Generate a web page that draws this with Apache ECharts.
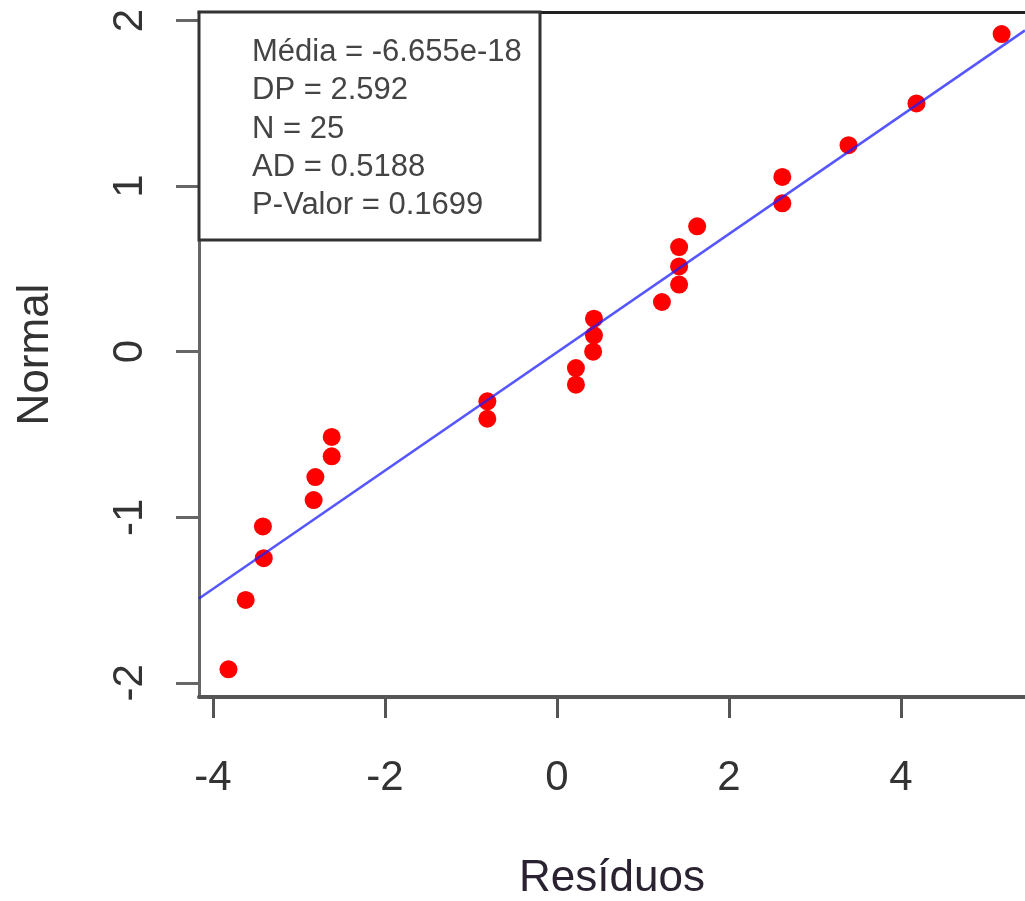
<!DOCTYPE html>
<html>
<head>
<meta charset="utf-8">
<script src="https://cdn.jsdelivr.net/npm/echarts@6/dist/echarts.min.js"></script>
<style>
  html, body { margin: 0; padding: 0; background: #fff; }
  #chart { width: 1025px; height: 901px; }
</style>
</head>
<body>
<div id="chart"></div>
<script>
// residuos vs quantis normais (posições de mediana)
const residuos = [-3.82, -3.62, -3.41, -3.42, -2.83, -2.81, -2.62, -2.62, -0.81, -0.81,
  0.22, 0.22, 0.42, 0.43, 0.43, 1.22, 1.42, 1.42, 1.42, 1.63, 2.62, 2.62, 3.39, 4.18, 5.17];
const normal = [-1.918, -1.499, -1.247, -1.055, -0.896, -0.757, -0.632, -0.515, -0.405, -0.300,
  -0.199, -0.099, 0, 0.099, 0.199, 0.300, 0.405, 0.515, 0.632, 0.757, 0.896, 1.055, 1.247, 1.499, 1.918];

// reta de referência (extremos)
const retaX = [-4.163, 5.442];
const retaY = [-1.49, 1.94];

const xTicks = [-4, -2, 0, 2, 4];
const yTicks = [-2, -1, 0, 1, 2];

const estatisticas = [
  "Média = -6.655e-18",
  "DP = 2.592",
  "N = 25",
  "AD = 0.5188",
  "P-Valor = 0.1699",
];

const font = '"Liberation Sans", Arial, sans-serif';

const chart = echarts.init(document.getElementById("chart"));

const option = {
  animation: false,
  backgroundColor: "#fff",
  grid: { left: 199, top: 12, right: 0, bottom: 204, containLabel: false, outerBoundsMode: "none" },
  xAxis: [
    {
      type: "value",
      min: -4.163,
      max: 5.442,
      name: "Resíduos",
      nameLocation: "middle",
      nameGap: 160,
      nameTextStyle: { fontFamily: font, fontSize: 44, color: "#2a2230" },
      axisLine: { show: true, onZero: false, lineStyle: { color: "#555", width: 4 } },
      axisTick: { show: true, customValues: xTicks, length: 21, lineStyle: { color: "#555", width: 3 } },
      axisLabel: { customValues: xTicks, margin: 60, fontFamily: font, fontSize: 42, color: "#333" },
      splitLine: { show: false },
    },
    {
      type: "value",
      position: "top",
      min: -4.163,
      max: 5.442,
      axisLine: { show: true, onZero: false, lineStyle: { color: "#222", width: 3 } },
      axisTick: { show: false },
      axisLabel: { show: false },
      splitLine: { show: false },
    },
  ],
  yAxis: {
    type: "value",
    min: -2.085,
    max: 2.051,
    name: "Normal",
    nameLocation: "middle",
    nameGap: 141,
    nameTextStyle: { fontFamily: font, fontSize: 44, color: "#333" },
    axisLine: { show: true, onZero: false, lineStyle: { color: "#666", width: 3 } },
    axisTick: { show: true, customValues: yTicks, length: 23, lineStyle: { color: "#666", width: 3 } },
    axisLabel: { customValues: yTicks, rotate: 90, margin: 48, fontFamily: font, fontSize: 42, color: "#333" },
    splitLine: { show: false },
  },
  series: [
    {
      type: "scatter",
      data: residuos.map((x, i) => [x, normal[i]]),
      symbol: "circle",
      symbolSize: 18,
      itemStyle: { color: "#ff0000", opacity: 1 },
      z: 2,
    },
    {
      type: "line",
      data: retaX.map((x, i) => [x, retaY[i]]),
      showSymbol: false,
      lineStyle: { color: "rgba(30,30,255,0.75)", width: 2.5 },
      z: 3,
    },
  ],
  graphic: [
    {
      type: "rect",
      shape: { x: 199, y: 12, width: 341, height: 228 },
      style: { fill: "#fff", stroke: "#333", lineWidth: 3 },
      z: 10,
    },
    ...estatisticas.map((t, i) => ({
      type: "text",
      left: 252,
      top: 37 + i * 38.3,
      style: { text: t, fontFamily: font, fontSize: 31, fill: "#444" },
      z: 11,
    })),
  ],
};

chart.setOption(option);
</script>
</body>
</html>
